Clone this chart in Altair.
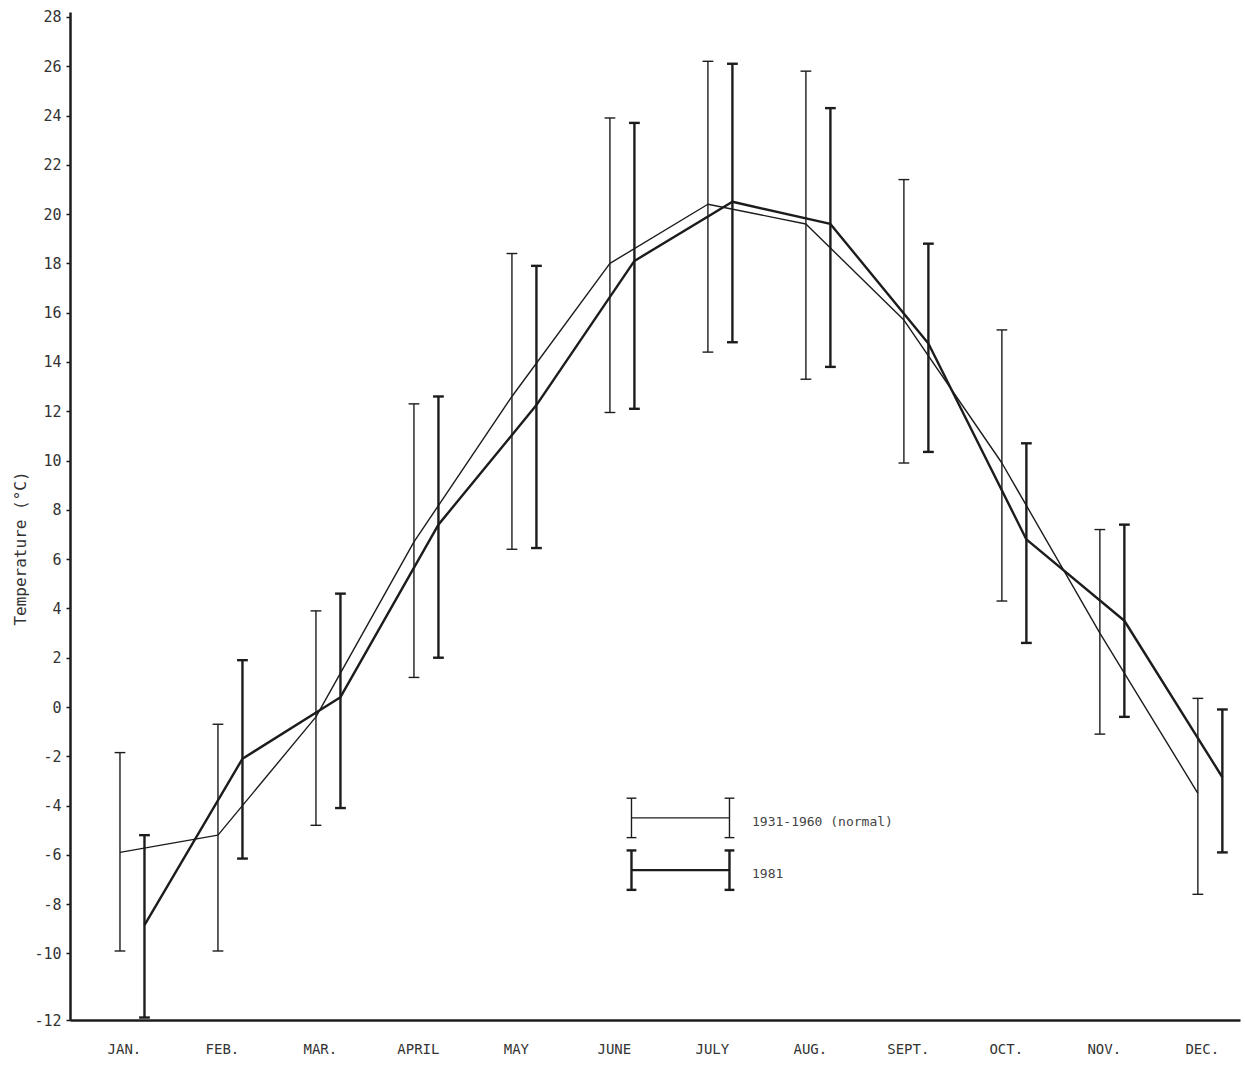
import json
import altair as alt
import pandas as pd

# ---- data ----
months = ["JAN.", "FEB.", "MAR.", "APRIL", "MAY", "JUNE",
          "JULY", "AUG.", "SEPT.", "OCT.", "NOV.", "DEC."]

normal_mean = [-5.9, -5.2, -0.4, 6.7, 12.6, 18.0, 20.4, 19.6, 15.7, 9.9, 3.0, -3.5]
normal_hi = [-1.85, -0.7, 3.9, 12.3, 18.4, 23.9, 26.2, 25.8, 21.4, 15.3, 7.2, 0.35]
normal_lo = [-9.9, -9.9, -4.8, 1.2, 6.4, 11.95, 14.4, 13.3, 9.9, 4.3, -1.1, -7.6]

y1981_mean = [-8.85, -2.1, 0.4, 7.4, 12.25, 18.1, 20.5, 19.6, 14.75, 6.8, 3.5, -2.85]
y1981_hi = [-5.2, 1.9, 4.6, 12.6, 17.9, 23.7, 26.1, 24.3, 18.8, 10.7, 7.4, -0.1]
y1981_lo = [-12.6, -6.15, -4.1, 2.0, 6.45, 12.1, 14.8, 13.8, 10.35, 2.6, -0.4, -5.9]

series_labels = ["1931-1960 (normal)", "1981"]
y_ticks = list(range(-10, 29, 2))

# ---- layout constants ----
INK = "#1c1c1c"
X_DOMAIN = [0.49, 12.43]
Y_DOMAIN = [-12.7, 28.2]
OFFSET_1981 = 0.25
CAP_HALF = 0.055

rows = []
for i, m in enumerate(months):
    rows.append(dict(month=m, series="normal", pos=i + 1,
                     mean=normal_mean[i], lo=normal_lo[i], hi=normal_hi[i]))
    rows.append(dict(month=m, series="1981", pos=i + 1 + OFFSET_1981,
                     mean=y1981_mean[i], lo=y1981_lo[i], hi=y1981_hi[i]))
df = pd.DataFrame(rows)

# legend drawn inside the plot (data space)
leg_rows = [
    dict(series="normal", label=series_labels[0], y=-4.5, x0=6.22, x1=7.22, tx=7.45),
    dict(series="1981", label=series_labels[1], y=-6.62, x0=6.22, x1=7.22, tx=7.45),
]
leg = pd.DataFrame(leg_rows)

month_js = json.dumps(months)
x_scale = alt.Scale(domain=X_DOMAIN, nice=False, zero=False)
y_scale = alt.Scale(domain=Y_DOMAIN, nice=False, zero=False)

x_axis = alt.Axis(
    values=[i + 1.04 for i in range(12)],
    labelExpr=f"{month_js}[round(datum.value - 1.04)]",
    ticks=False, grid=False, title=None,
    domainColor=INK, domainWidth=2.5,
    labelFont="DejaVu Sans Mono", labelFontSize=14, labelColor="#333",
    labelPadding=22, labelFlush=False,
)
y_axis = alt.Axis(
    values=[Y_DOMAIN[0]] + y_ticks,
    labelExpr=("datum.value < -12 ? '-12' : (datum.value < 0 ? '-' + "
               "format(abs(datum.value), 'd') : format(datum.value, 'd'))"),
    grid=False, title="Temperature (°C)",
    domainColor=INK, domainWidth=2.5,
    tickColor=INK, tickSize=4, tickWidth=1.5,
    labelFont="DejaVu Sans Mono", labelFontSize=15, labelColor="#333",
    labelPadding=5,
    titleFont="DejaVu Sans Mono", titleFontSize=16, titleFontWeight="normal",
    titleColor="#333", titleX=-50, titleY=536, titleAngle=-90,
    titleAlign="center", titleBaseline="middle",
)


def X(field):
    return alt.X(f"{field}:Q", scale=x_scale, axis=x_axis)


def Y(field):
    return alt.Y(f"{field}:Q", scale=y_scale, axis=y_axis)


sw_scale = lambda a, b: alt.Scale(domain=["normal", "1981"], range=[a, b])

base = alt.Chart(df)

bars = base.mark_rule(color=INK).encode(
    x=X("pos"), y=Y("lo"), y2="hi",
    strokeWidth=alt.StrokeWidth("series:N", scale=sw_scale(1.4, 2.4), legend=None),
)

caps_df = base.transform_calculate(
    cl=f"datum.pos - {CAP_HALF}", cr=f"datum.pos + {CAP_HALF}"
)
cap_hi = caps_df.mark_rule(color=INK).encode(
    x=X("cl"), x2="cr", y=Y("hi"),
    strokeWidth=alt.StrokeWidth("series:N", scale=sw_scale(1.8, 3.2), legend=None),
)
cap_lo = caps_df.mark_rule(color=INK).encode(
    x=X("cl"), x2="cr", y=Y("lo"),
    strokeWidth=alt.StrokeWidth("series:N", scale=sw_scale(1.8, 3.2), legend=None),
)

lines = base.mark_line(color=INK, strokeJoin="round").encode(
    x=X("pos"), y=Y("mean"),
    detail="series:N",
    strokeWidth=alt.StrokeWidth("series:N", scale=sw_scale(1.7, 3.4), legend=None),
)

# legend pieces
lbase = alt.Chart(leg)
leg_line = lbase.mark_rule(color=INK).encode(
    x=X("x0"), x2="x1", y=Y("y"),
    strokeWidth=alt.StrokeWidth("series:N", scale=sw_scale(1.7, 3.4), legend=None),
)
leg_caps = lbase.transform_fold(["x0", "x1"], as_=["end", "xe"]).transform_calculate(
    ya="datum.y - 0.8", yb="datum.y + 0.8",
    sl="datum.xe - 0.05", sr="datum.xe + 0.05",
)
leg_vert = leg_caps.mark_rule(color=INK).encode(
    x=X("xe"), y=Y("ya"), y2="yb",
    strokeWidth=alt.StrokeWidth("series:N", scale=sw_scale(1.6, 2.6), legend=None),
)
leg_serif_a = leg_caps.mark_rule(color=INK).encode(
    x=X("sl"), x2="sr", y=Y("ya"),
    strokeWidth=alt.StrokeWidth("series:N", scale=sw_scale(1.8, 3.0), legend=None),
)
leg_serif_b = leg_caps.mark_rule(color=INK).encode(
    x=X("sl"), x2="sr", y=Y("yb"),
    strokeWidth=alt.StrokeWidth("series:N", scale=sw_scale(1.8, 3.0), legend=None),
)
leg_text = lbase.mark_text(
    align="left", baseline="middle", font="DejaVu Sans Mono",
    fontSize=13, color="#444", dy=4,
).encode(x=X("tx"), y=Y("y"), text="label:N")

chart = alt.layer(
    bars, cap_hi, cap_lo, lines,
    leg_line, leg_vert, leg_serif_a, leg_serif_b, leg_text,
).properties(
    width=1170, height=1008,
    autosize=alt.AutoSizeParams(type="none"),
    padding={"left": 70, "top": 12, "right": 5, "bottom": 57},
    background="white",
).configure_view(stroke=None)

chart.save("out.html", embed_options={"renderer": "svg", "actions": False})
